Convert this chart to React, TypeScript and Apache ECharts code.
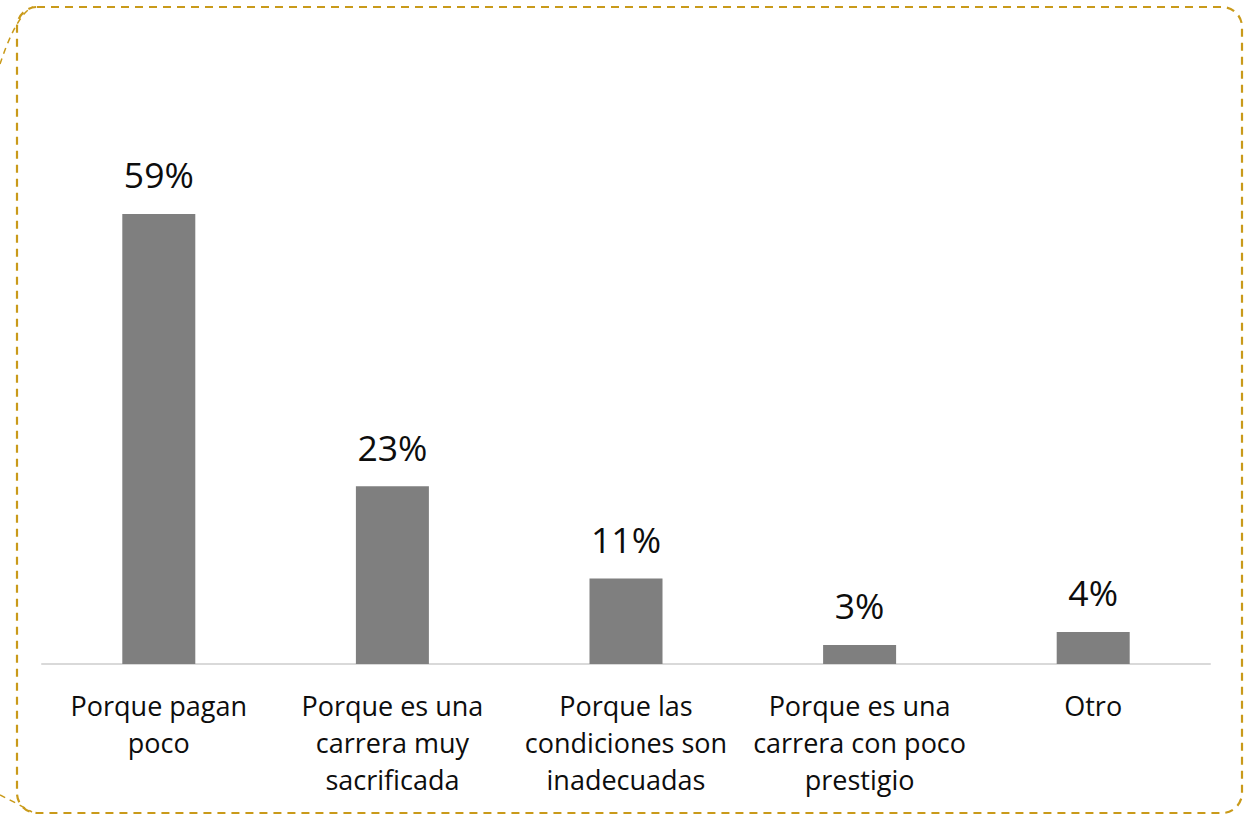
import React, { useEffect, useRef } from "react";
import * as echarts from "echarts";

const categories = [
  "Porque pagan\npoco",
  "Porque es una\ncarrera muy\nsacrificada",
  "Porque las\ncondiciones son\ninadecuadas",
  "Porque es una\ncarrera con poco\nprestigio",
  "Otro",
];
const values = [59, 23.3, 11.2, 2.5, 4.2];

const GOLD = "#C99A1A";

export default function App() {
  const ref = useRef<HTMLDivElement>(null);
  useEffect(() => {
    if (!ref.current) return;
    const chart = echarts.init(ref.current, undefined, { renderer: "svg" });
    chart.setOption({
      animation: false,
      backgroundColor: "#ffffff",
      textStyle: { fontFamily: "Open Sans" },
      grid: { left: 42, right: 43, top: 130, bottom: 151, containLabel: false },
      xAxis: {
        type: "category",
        data: categories,
        axisLine: { show: true, lineStyle: { color: "#D9D9D9", width: 2 } },
        axisTick: { show: false },
        axisLabel: {
          interval: 0,
          margin: 23,
          color: "#0D0D0D",
          fontFamily: "Open Sans",
          fontSize: 27,
          lineHeight: 37,
          align: "center",
        },
      },
      yAxis: {
        type: "value",
        min: 0,
        max: 70,
        show: false,
        splitLine: { show: false },
      },
      series: [
        {
          type: "bar",
          data: values,
          barWidth: 73,
          itemStyle: { color: "#7F7F7F" },
          label: {
            show: true,
            position: "top",
            distance: 22,
            color: "#0D0D0D",
            fontFamily: "Open Sans",
            fontSize: 35.5,
            lineHeight: 35,
            formatter: (p: any) => Math.round(p.value) + "%",
          },
        },
      ],
      graphic: [
        {
          type: "rect",
          shape: { x: 17, y: 7, width: 1225, height: 806, r: 20 },
          style: { fill: "none", stroke: GOLD, lineWidth: 2.2, lineDash: [8, 6] },
          silent: true,
        },
        {
          type: "bezierCurve",
          shape: { x1: 0, y1: 64, x2: 33, y2: 7, cpx1: 8, cpy1: 40, cpx2: 20, cpy2: 12 },
          style: { fill: "none", stroke: GOLD, lineWidth: 1.5, lineDash: [6, 5] },
          silent: true,
        },
        {
          type: "bezierCurve",
          shape: { x1: 0, y1: 795, x2: 32, y2: 812, cpx1: 10, cpy1: 800, cpx2: 22, cpy2: 806 },
          style: { fill: "none", stroke: GOLD, lineWidth: 1.5, lineDash: [6, 5] },
          silent: true,
        },
      ],
    });
    return () => chart.dispose();
  }, []);
  return (
    <div
      ref={ref}
      style={{ position: "fixed", left: 0, top: 0, width: 1253, height: 815 }}
    />
  );
}
